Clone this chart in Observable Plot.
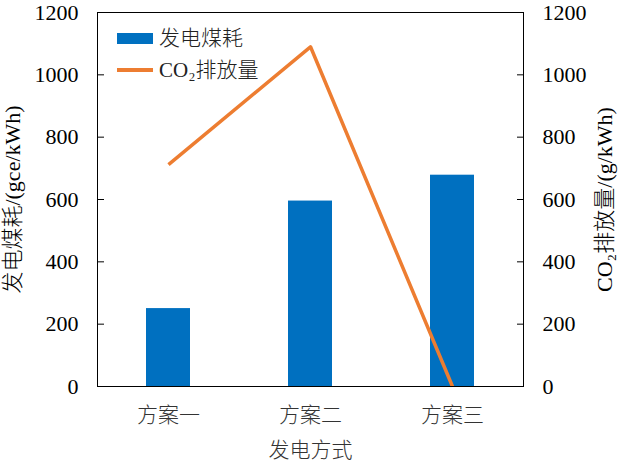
<!DOCTYPE html>
<html><head><meta charset="utf-8">
<script src="https://cdn.jsdelivr.net/npm/d3@7"></script>
<script src="https://cdn.jsdelivr.net/npm/@observablehq/plot@0.6"></script>
<style>
body{margin:0;background:#fff;}
#wrap{position:relative;width:623px;height:463px;}
#legend{position:absolute;left:117px;top:22px;font-family:"Liberation Serif","Noto Sans CJK SC",serif;font-weight:300;font-size:21px;color:#222;line-height:32px;}
#legend .row{display:flex;align-items:center;height:32px;}
#legend .sw{width:36px;margin-right:6px;}
svg text{font-weight:300;}
</style></head>
<body><div id="wrap"><div id="legend"></div></div>
<script>
const categories = ["方案一", "方案二", "方案三"];
const coalValues = [250, 595, 678];
const co2Values = [712, 1090, 0];
const yTicks = [0, 200, 400, 600, 800, 1000, 1200];
const seriesNames = ["发电煤耗", "CO₂排放量"];
const colors = ["#0070C0", "#ED7D31"];

const rows = categories.map((c, i) => ({cat: c, coal: coalValues[i], co2: co2Values[i]}));
const font = "'Liberation Serif','Noto Sans CJK SC',serif";
const fmt = d => String(d);

const chart = Plot.plot({
  width: 623, height: 463,
  marginLeft: 97, marginRight: 100, marginTop: 12, marginBottom: 77,
  style: {fontFamily: font, fontSize: "21px", color: "#000", background: "#fff"},
  x: {domain: categories, paddingInner: 0.69, paddingOuter: 0.345, label: null},
  y: {domain: [0, 1200], label: null},
  marks: [
    Plot.barY(rows, {x: "cat", y: "coal", fill: colors[0]}),
    Plot.line(rows, {x: "cat", y: "co2", stroke: colors[1], strokeWidth: 3.5, strokeLinecap: "butt"}),
    Plot.frame({stroke: "#000", strokeWidth: 1}),
    Plot.axisY(yTicks, {anchor: "left", tickSize: 7, dx: 7, stroke: "#000", tickFormat: () => "", label: null}),
    Plot.axisY(yTicks, {anchor: "right", tickSize: 7, dx: -7, stroke: "#000", tickFormat: () => "", label: null}),
    Plot.axisY(yTicks, {anchor: "left", tickSize: 0, tickPadding: 19, fontSize: 22, tickFormat: fmt, fill: "#000", label: "发电煤耗/(gce/kWh)", labelAnchor: "center", labelOffset: 93, labelArrow: false}),
    Plot.axisY(yTicks, {anchor: "right", tickSize: 0, tickPadding: 19, fontSize: 22, tickFormat: fmt, textAnchor: "start", fill: "#000", label: "CO₂排放量/(g/kWh)", labelAnchor: "center", labelOffset: 88, labelArrow: false}),
    Plot.axisX({anchor: "bottom", tickSize: 0, tickPadding: 21, fill: "#333", label: "发电方式", labelAnchor: "center", labelOffset: 70, labelArrow: false})
  ]
});
document.getElementById("wrap").prepend(chart);

const lg = document.getElementById("legend");
seriesNames.forEach((n, i) => {
  const r = document.createElement("div"); r.className = "row";
  const sw = document.createElement("div"); sw.className = "sw";
  sw.style.height = i === 0 ? "11px" : "4px";
  sw.style.background = colors[i];
  const t = document.createElement("span"); t.textContent = n;
  r.append(sw, t); lg.append(r);
});
</script></body></html>
